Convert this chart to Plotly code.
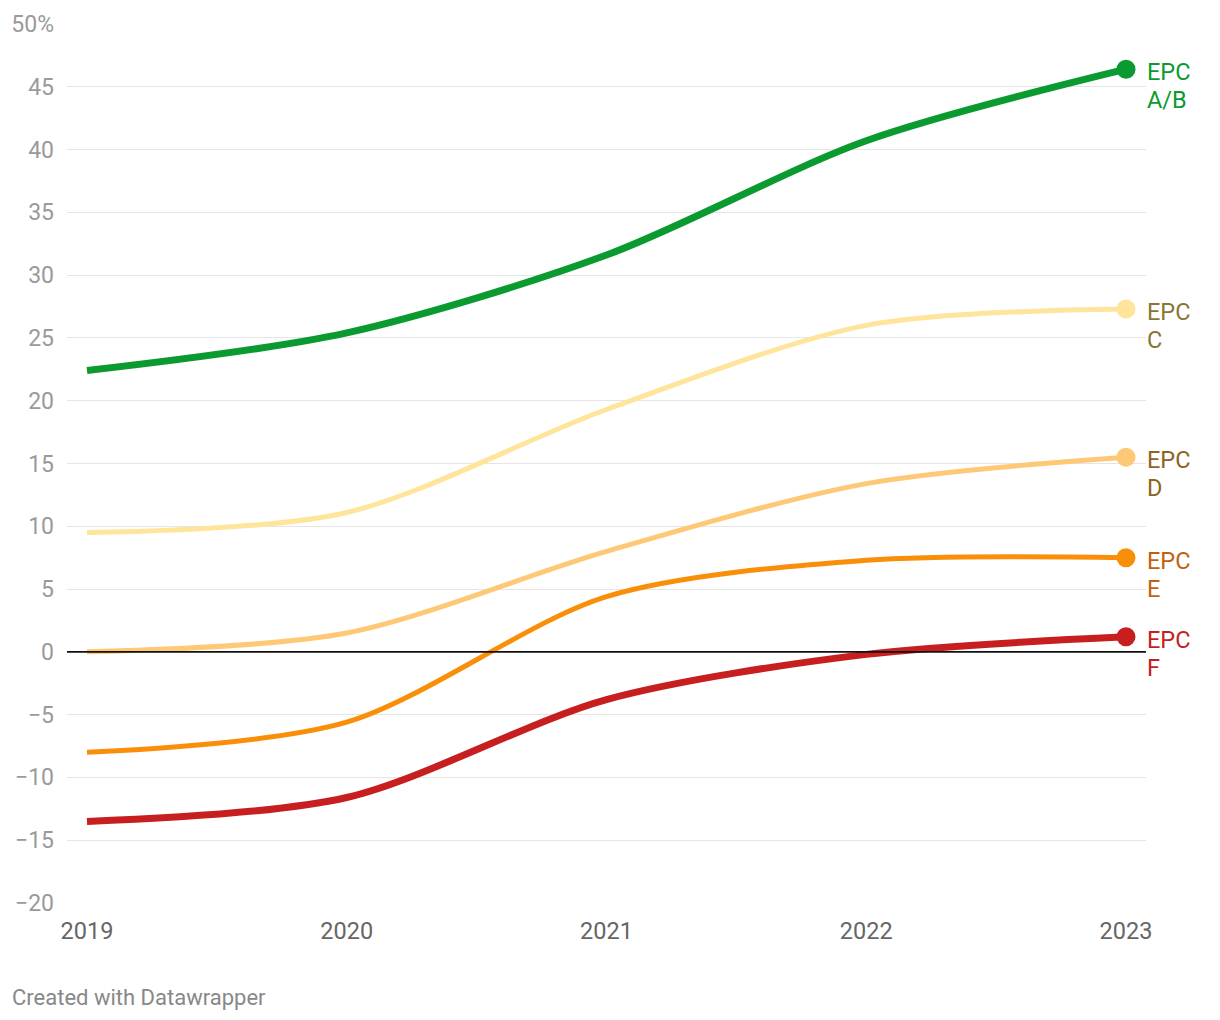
import plotly.graph_objects as go

years = [2019, 2020, 2021, 2022, 2023]
epc_ab = [22.4, 25.4, 31.6, 40.7, 46.4]
epc_c = [9.5, 11.1, 19.3, 26.0, 27.3]
epc_d = [0.0, 1.5, 8.0, 13.4, 15.5]
epc_e = [-8.0, -5.6, 4.4, 7.3, 7.5]
epc_f = [-13.5, -11.6, -3.8, -0.2, 1.2]

label_prefix = "EPC"
series_bands = ["A/B", "C", "D", "E", "F"]
y_ticks = [-20, -15, -10, -5, 0, 5, 10, 15, 20, 25, 30, 35, 40, 45, 50]
y_ticktext = ["\u221220", "\u221215", "\u221210", "\u22125", "0", "5", "10", "15", "20", "25", "30", "35", "40", "45", "50%"]
x_ticks = [2019, 2020, 2021, 2022, 2023]

line_colors = ["#0a9a30", "#fee59b", "#fdc977", "#f98f08", "#c71e1f"]
label_colors = ["#0a9a30", "#8a7535", "#8e6420", "#c2610c", "#c71e1f"]
widths = [7, 5, 5, 5, 7]
data = [epc_ab, epc_c, epc_d, epc_e, epc_f]

FONT = "Roboto, sans-serif"
fig = go.Figure()

order = [1, 2, 3, 4, 0]
for i in order:
    vals = data[i]
    fig.add_trace(go.Scatter(
        x=years, y=vals, mode="lines", line=dict(color=line_colors[i], width=widths[i], shape="spline", smoothing=0.85),
        hoverinfo="skip", showlegend=False))
    fig.add_trace(go.Scatter(
        x=[years[-1]], y=[vals[-1]], mode="markers",
        marker=dict(color=line_colors[i], size=19), hoverinfo="skip", showlegend=False))
    for text, ys in ((label_prefix, -3), (series_bands[i], -31)):
        fig.add_annotation(x=years[-1], y=vals[-1], xref="x", yref="y", text=text,
                           showarrow=False, xanchor="left", yanchor="middle", align="left",
                           xshift=19, yshift=ys,
                           font=dict(family=FONT, size=23.5, color=label_colors[i]))

pad = 4 * 20 / 1039
fig.update_xaxes(range=[2019 - pad, 2023 + pad], tickvals=x_ticks, ticktext=[str(v) for v in x_ticks],
                 showgrid=False, zeroline=False, showline=False, ticks="",
                 tickfont=dict(family=FONT, size=23.5, color="#666666"), ticklabelstandoff=11)
fig.update_yaxes(range=[-20, 50], tickvals=y_ticks, ticktext=y_ticktext,
                 showgrid=True, gridcolor="#e5e5e5", gridwidth=1, zeroline=False, showline=False, ticks="",
                 tickfont=dict(family=FONT, size=23, color="#9a9a9a"), ticklabelstandoff=12)

fig.add_shape(type="line", xref="paper", yref="y", x0=0, x1=1, y0=0, y1=0,
              line=dict(color="#111111", width=1.6), layer="above")

fig.add_annotation(text="Created with Datawrapper", xref="paper", yref="paper",
                   x=(10 - 67) / 1079, y=(903 - 997) / 879, xanchor="left", yanchor="middle",
                   showarrow=False, font=dict(family=FONT, size=22, color="#888888"))

fig.update_layout(width=1220, height=1020, margin=dict(l=67, r=74, t=24, b=117),
                  paper_bgcolor="white", plot_bgcolor="white", font=dict(family=FONT))

fig.write_html("out.html")
